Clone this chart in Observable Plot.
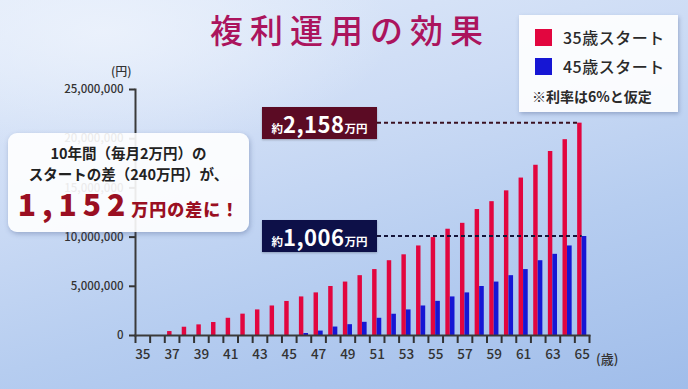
<!DOCTYPE html>
<html lang="ja">
<head>
<meta charset="utf-8">
<script src="https://cdn.jsdelivr.net/npm/d3@7"></script>
<script src="https://cdn.jsdelivr.net/npm/@observablehq/plot@0.6"></script>
<style>
  html, body { margin: 0; padding: 0; }
  body { width: 688px; height: 389px; overflow: hidden; }
  #stage {
    position: relative; width: 688px; height: 389px; overflow: hidden;
    background:
      radial-gradient(ellipse 60% 45% at 15% 8%, rgba(236,242,252,0.9), rgba(236,242,252,0) 70%),
      linear-gradient(165deg, #e1ebfa 0%, #cddcf5 35%, #b6cdf0 65%, #a0bdea 100%);
    font-family: "Noto Sans CJK JP", "Noto Sans", sans-serif;
  }
  #stage svg { position: absolute; left: 0; top: 0; }
  .ov { position: absolute; white-space: nowrap; }
  #title {
    left: 0; width: 688px; top: 7px; text-align: center; font-size: 33px; font-weight: 500;
    color: #ab145d; letter-spacing: 7px; padding-left: 12px; box-sizing: border-box; line-height: 44px;
  }
  #legend {
    left: 519px; top: 15px; width: 159px; height: 97px; background: rgba(255,255,255,0.9);
    box-shadow: 1px 2px 4px rgba(60,80,130,0.35);
  }
  .sw { position: absolute; width: 17px; height: 17px; }
  .lt { position: absolute; font-size: 16px; color: #2a2a2a; font-weight: 500; line-height: 20px; letter-spacing: 0.5px; }
  #callout {
    left: 8px; top: 133px; width: 241px; height: 99px; border-radius: 9px;
    background: rgba(255,255,255,0.9); box-shadow: 1px 2px 5px rgba(60,80,130,0.35);
  }
  .cl { position: absolute; left: 0; width: 241px; text-align: center; font-weight: 700; color: #222; font-size: 14.5px; line-height: 20px; }
  #big { position: absolute; left: 0; width: 241px; top: 50px; text-align: center; color: #9a0f22; font-weight: 900; line-height: 40px; }
  #big .n { font-size: 30px; letter-spacing: 6px; }
  #big .u { font-size: 17px; letter-spacing: 1px; }
  .tag { position: absolute; left: 262px; width: 115px; height: 32px; color: #fff; font-weight: 700; text-align: center; line-height: 32px; box-shadow: 0 1px 2px rgba(0,0,0,0.25);}
  .tag .s { font-size: 11.5px; }
  .tag .n { font-size: 22px; letter-spacing: 0.5px; }
  .unit { font-size: 12px; color: #333; font-weight: 500; }
</style>
</head>
<body>
<div id="stage"></div>
<script>
// ---- data ----
const ages = [35,36,37,38,39,40,41,42,43,44,45,46,47,48,49,50,51,52,53,54,55,56,57,58,59,60,61,62,63,64,65];
const start35 = [0,0,400000,840000,1080000,1320000,1750000,2170000,2600000,3000000,3460000,3920000,4330000,4980000,5430000,6080000,6700000,7600000,8200000,9100000,9950000,10800000,11400000,12800000,13600000,14700000,16000000,17300000,18700000,19900000,21580000];
const start45 = [0,0,0,0,0,0,0,0,0,0,0,200000,450000,860000,1100000,1340000,1750000,2160000,2600000,3000000,3470000,3920000,4330000,4980000,5430000,6080000,6700000,7600000,8250000,9100000,10060000];
const yTicks = [0, 5000000, 10000000, 15000000, 20000000, 25000000];
const xLabels = [35,37,39,41,43,45,47,49,51,53,55,57,59,61,63,65];
const seriesNames = ["35歳スタート", "45歳スタート"];
const note = "※利率は6%と仮定";
const title = "複利運用の効果";
const finalRed = "2,158";
const finalBlue = "1,006";
const diffText = "1,152";

const RED = "#e2063f";
const BLUE = "#1616d4";
const INK = "#333";

const table = ages.map((a, i) => ({age: a, s35: start35[i], s45: start45[i]}));

const W = 688, H = 389;
const mL = 135, mR = 99, mT = 89, mB = 54;
const bw = (W - mL - mR) / ages.length;

const chart = Plot.plot({
  width: W, height: H,
  marginLeft: mL, marginRight: mR, marginTop: mT, marginBottom: mB,
  style: {background: "transparent", color: INK, fontFamily: "'Noto Sans CJK JP', 'Noto Sans', sans-serif", overflow: "visible"},
  x: {type: "band", domain: ages, paddingInner: 0, paddingOuter: 0, round: false},
  y: {domain: [0, 25000000]},
  marks: [
    Plot.barY(table.filter(d => d.s35 > 0), {x: "age", y: "s35", fill: RED, insetLeft: 2.8, insetRight: 7.4}),
    Plot.barY(table.filter(d => d.s45 > 0), {x: "age", y: "s45", fill: BLUE, insetLeft: 7.3, insetRight: 2.7}),
    Plot.axisY({ticks: yTicks, tickSize: 6, tickPadding: 6, tickFormat: d3.format(","), fontSize: 11.5, fontWeight: 500, strokeWidth: 2, label: null, fill: INK}),
    Plot.axisX({ticks: ages, tickSize: 8, tickFormat: () => "", dx: -bw / 2, strokeWidth: 2, label: null}),
    Plot.axisX({ticks: [ages[ages.length - 1]], tickSize: 8, tickFormat: () => "", dx: bw / 2, strokeWidth: 2, label: null}),
    Plot.axisX({ticks: xLabels, tickSize: 0, tickPadding: 14, fontSize: 13.5, fontWeight: 500, label: null, fill: INK}),
    Plot.frame({anchor: "left", strokeWidth: 2, stroke: "#3a3a3a"}),
    Plot.frame({anchor: "bottom", strokeWidth: 2, stroke: "#3a3a3a"})
  ]
});

const stage = document.getElementById("stage");
stage.appendChild(chart);

const xs = chart.scale("x");
const ys = chart.scale("y");
const xOf = a => xs.apply(a);
const yRed = ys.apply(start35[start35.length - 1]);
const yBlue = ys.apply(start45[start45.length - 1]);
const lastAge = ages[ages.length - 1];
const tagRight = 377;

const NS = "http://www.w3.org/2000/svg";
function dash(y, x2, color) {
  const l = document.createElementNS(NS, "line");
  l.setAttribute("x1", tagRight); l.setAttribute("x2", x2);
  l.setAttribute("y1", y); l.setAttribute("y2", y);
  l.setAttribute("stroke", color); l.setAttribute("stroke-width", 2);
  l.setAttribute("stroke-dasharray", "4 3");
  chart.appendChild(l);
}
dash(yRed, xOf(lastAge) + 2.8, "#3a1020");
dash(yBlue, xOf(lastAge) + 7.3, "#15153a");

function el(cls, html, css) {
  const d = document.createElement("div");
  d.className = cls; d.innerHTML = html; Object.assign(d.style, css || {});
  stage.appendChild(d); return d;
}

el("ov", title, {}).id = "title";
el("ov unit", "(円)", {left: "111px", top: "62px"});
el("ov unit", "(歳)", {left: "596px", top: (H - mB + 14) + "px", fontSize: "13px"});

const lg = el("ov", "", {}); lg.id = "legend";
lg.innerHTML =
  `<div class="sw" style="left:16px;top:14px;background:${RED}"></div>` +
  `<div class="lt" style="left:44px;top:12px">${seriesNames[0]}</div>` +
  `<div class="sw" style="left:16px;top:43px;background:${BLUE}"></div>` +
  `<div class="lt" style="left:44px;top:41px">${seriesNames[1]}</div>` +
  `<div class="lt" style="left:13px;top:71px;font-size:14px;font-weight:700;letter-spacing:0">${note}</div>`;

const co = el("ov", "", {}); co.id = "callout";
co.innerHTML =
  `<div class="cl" style="top:10px">10年間（毎月2万円）の</div>` +
  `<div class="cl" style="top:31px">スタートの差（240万円）が、</div>` +
  `<div id="big"><span class="n">${diffText}</span><span class="u">万円の差に！</span></div>`;

el("tag", `<span class="s">約</span><span class="n">${finalRed}</span><span class="s">万円</span>`,
   {top: (yRed - 16) + "px", background: "#5b0b24"});
el("tag", `<span class="s">約</span><span class="n">${finalBlue}</span><span class="s">万円</span>`,
   {top: (yBlue - 16) + "px", background: "#0d1048"});
</script>
</body>
</html>
